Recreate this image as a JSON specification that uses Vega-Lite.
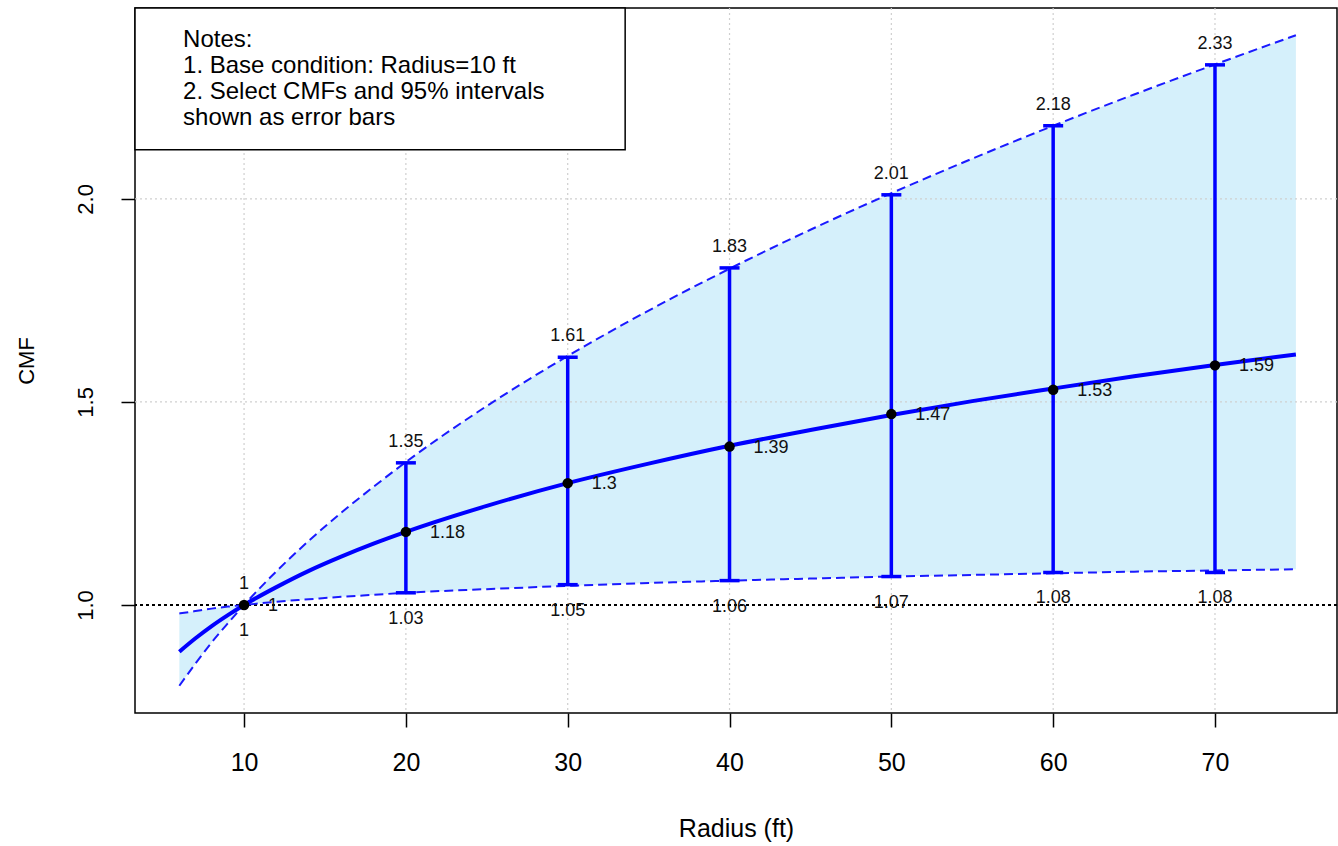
{
  "$schema": "https://vega.github.io/schema/vega-lite/v6.json",
  "width": 1202,
  "height": 705,
  "autosize": {"type": "none"},
  "padding": {"left": 135, "top": 8, "right": 1, "bottom": 133},
  "background": "white",
  "config": {
    "view": {"stroke": "black", "strokeWidth": 1.5},
    "font": "Liberation Sans",
    "axis": {"grid": false, "domain": false, "tickColor": "black", "tickWidth": 1.5, "tickSize": 14, "labelColor": "black", "labelFont": "Liberation Sans", "titleFont": "Liberation Sans", "titleFontWeight": "normal", "titleColor": "black"}
  },
  "datasets": {
    "curve": [
      {"r": 6, "mean": 0.885, "lo": 0.979, "hi": 0.801},
      {"r": 7, "mean": 0.918, "lo": 0.985, "hi": 0.856},
      {"r": 8, "mean": 0.948, "lo": 0.991, "hi": 0.908},
      {"r": 9, "mean": 0.975, "lo": 0.996, "hi": 0.955},
      {"r": 10, "mean": 1.0, "lo": 1.0, "hi": 1.0},
      {"r": 12, "mean": 1.044, "lo": 1.008, "hi": 1.083},
      {"r": 14, "mean": 1.084, "lo": 1.014, "hi": 1.158},
      {"r": 16, "mean": 1.119, "lo": 1.02, "hi": 1.227},
      {"r": 18, "mean": 1.151, "lo": 1.025, "hi": 1.291},
      {"r": 20, "mean": 1.18, "lo": 1.03, "hi": 1.352},
      {"r": 25, "mean": 1.244, "lo": 1.039, "hi": 1.49},
      {"r": 30, "mean": 1.3, "lo": 1.047, "hi": 1.613},
      {"r": 35, "mean": 1.348, "lo": 1.054, "hi": 1.725},
      {"r": 40, "mean": 1.392, "lo": 1.06, "hi": 1.828},
      {"r": 45, "mean": 1.431, "lo": 1.065, "hi": 1.924},
      {"r": 50, "mean": 1.468, "lo": 1.07, "hi": 2.014},
      {"r": 55, "mean": 1.502, "lo": 1.074, "hi": 2.099},
      {"r": 60, "mean": 1.533, "lo": 1.078, "hi": 2.18},
      {"r": 65, "mean": 1.563, "lo": 1.082, "hi": 2.257},
      {"r": 70, "mean": 1.591, "lo": 1.085, "hi": 2.331},
      {"r": 75, "mean": 1.617, "lo": 1.088, "hi": 2.403}
    ],
    "pts": [
      {"r": 10, "mean": 1.0, "lo": 1.0, "hi": 1.0, "mLab": "1", "loLab": "1", "hiLab": "1"},
      {"r": 20, "mean": 1.18, "lo": 1.03, "hi": 1.35, "mLab": "1.18", "loLab": "1.03", "hiLab": "1.35"},
      {"r": 30, "mean": 1.3, "lo": 1.05, "hi": 1.61, "mLab": "1.3", "loLab": "1.05", "hiLab": "1.61"},
      {"r": 40, "mean": 1.39, "lo": 1.06, "hi": 1.83, "mLab": "1.39", "loLab": "1.06", "hiLab": "1.83"},
      {"r": 50, "mean": 1.47, "lo": 1.07, "hi": 2.01, "mLab": "1.47", "loLab": "1.07", "hiLab": "2.01"},
      {"r": 60, "mean": 1.53, "lo": 1.08, "hi": 2.18, "mLab": "1.53", "loLab": "1.08", "hiLab": "2.18"},
      {"r": 70, "mean": 1.59, "lo": 1.08, "hi": 2.33, "mLab": "1.59", "loLab": "1.08", "hiLab": "2.33"}
    ],
    "gridx": [{"v": 10}, {"v": 20}, {"v": 30}, {"v": 40}, {"v": 50}, {"v": 60}, {"v": 70}],
    "gridy": [{"v": 1.5}, {"v": 2.0}],
    "notes": [
      {"text": "Notes:", "y": 2.392},
      {"text": "1. Base condition: Radius=10 ft", "y": 2.328},
      {"text": "2. Select CMFs and 95% intervals", "y": 2.264},
      {"text": "shown as error bars", "y": 2.2}
    ]
  },
  "layer": [
    {
      "data": {"name": "curve"},
      "mark": {"type": "area", "color": "#d5f0fb", "interpolate": "monotone"},
      "encoding": {
        "x": {"field": "r", "type": "quantitative", "scale": {"domain": [3.26, 77.54], "nice": false, "zero": false},
              "axis": {"values": [10, 20, 30, 40, 50, 60, 70], "title": "Radius (ft)", "labelFontSize": 25, "titleFontSize": 25, "labelPadding": 23, "titlePadding": 41}},
        "y": {"field": "lo", "type": "quantitative", "scale": {"domain": [0.734, 2.47], "nice": false, "zero": false},
              "axis": {"values": [1.0, 1.5, 2.0], "format": ".1f", "title": "CMF", "labelFontSize": 22, "titleFontSize": 22, "labelAngle": -90, "labelAlign": "center", "labelBaseline": "bottom", "labelPadding": 24, "titlePadding": 36}},
        "y2": {"field": "hi"}
      }
    },
    {
      "data": {"name": "gridx"},
      "mark": {"type": "rule", "color": "#cfcfcf", "strokeDash": [2, 3], "strokeWidth": 1.2},
      "encoding": {"x": {"field": "v", "type": "quantitative"}}
    },
    {
      "data": {"name": "gridy"},
      "mark": {"type": "rule", "color": "#cfcfcf", "strokeDash": [2, 3], "strokeWidth": 1.2},
      "encoding": {"y": {"field": "v", "type": "quantitative"}}
    },
    {
      "data": {"values": [{"v": 1.0}]},
      "mark": {"type": "rule", "color": "black", "strokeDash": [3, 3], "strokeWidth": 2.2},
      "encoding": {"y": {"field": "v", "type": "quantitative"}}
    },
    {
      "data": {"name": "curve"},
      "mark": {"type": "line", "color": "#1a1aff", "strokeDash": [9, 5], "strokeWidth": 2, "interpolate": "monotone"},
      "encoding": {"x": {"field": "r", "type": "quantitative"}, "y": {"field": "hi", "type": "quantitative"}}
    },
    {
      "data": {"name": "curve"},
      "mark": {"type": "line", "color": "#1a1aff", "strokeDash": [9, 5], "strokeWidth": 2, "interpolate": "monotone"},
      "encoding": {"x": {"field": "r", "type": "quantitative"}, "y": {"field": "lo", "type": "quantitative"}}
    },
    {
      "data": {"name": "curve"},
      "mark": {"type": "line", "color": "#0000ff", "strokeWidth": 4, "interpolate": "monotone"},
      "encoding": {"x": {"field": "r", "type": "quantitative"}, "y": {"field": "mean", "type": "quantitative"}}
    },
    {
      "data": {"name": "pts"},
      "transform": [{"filter": "datum.r > 10"}],
      "mark": {"type": "rule", "color": "#0000ff", "strokeWidth": 3.5},
      "encoding": {"x": {"field": "r", "type": "quantitative"}, "y": {"field": "lo", "type": "quantitative"}, "y2": {"field": "hi"}}
    },
    {
      "data": {"name": "pts"},
      "transform": [{"filter": "datum.r > 10"}],
      "mark": {"type": "tick", "orient": "horizontal", "color": "#0000ff", "size": 20, "thickness": 3.5, "opacity": 1},
      "encoding": {"x": {"field": "r", "type": "quantitative"}, "y": {"field": "hi", "type": "quantitative"}}
    },
    {
      "data": {"name": "pts"},
      "transform": [{"filter": "datum.r > 10"}],
      "mark": {"type": "tick", "orient": "horizontal", "color": "#0000ff", "size": 20, "thickness": 3.5, "opacity": 1},
      "encoding": {"x": {"field": "r", "type": "quantitative"}, "y": {"field": "lo", "type": "quantitative"}}
    },
    {
      "data": {"name": "pts"},
      "mark": {"type": "circle", "color": "black", "size": 110, "opacity": 1},
      "encoding": {"x": {"field": "r", "type": "quantitative"}, "y": {"field": "mean", "type": "quantitative"}}
    },
    {
      "data": {"name": "pts"},
      "mark": {"type": "text", "align": "left", "baseline": "middle", "dx": 24, "dy": 1, "fontSize": 18, "color": "#111111"},
      "encoding": {"x": {"field": "r", "type": "quantitative"}, "y": {"field": "mean", "type": "quantitative"}, "text": {"field": "mLab"}}
    },
    {
      "data": {"name": "pts"},
      "mark": {"type": "text", "align": "center", "baseline": "middle", "dy": -21, "fontSize": 18, "color": "#111111"},
      "encoding": {"x": {"field": "r", "type": "quantitative"}, "y": {"field": "hi", "type": "quantitative"}, "text": {"field": "hiLab"}}
    },
    {
      "data": {"name": "pts"},
      "mark": {"type": "text", "align": "center", "baseline": "middle", "dy": 26, "fontSize": 18, "color": "#111111"},
      "encoding": {"x": {"field": "r", "type": "quantitative"}, "y": {"field": "lo", "type": "quantitative"}, "text": {"field": "loLab"}}
    },
    {
      "data": {"values": [{}]},
      "mark": {"type": "rect", "fill": "white", "stroke": "black", "strokeWidth": 1.5},
      "encoding": {"x": {"datum": 3.26}, "x2": {"datum": 33.55}, "y": {"datum": 2.47}, "y2": {"datum": 2.1207}}
    },
    {
      "data": {"name": "notes"},
      "mark": {"type": "text", "align": "left", "baseline": "middle", "fontSize": 24, "color": "black"},
      "encoding": {"x": {"datum": 6.23}, "y": {"field": "y", "type": "quantitative"}, "text": {"field": "text"}}
    }
  ]
}
